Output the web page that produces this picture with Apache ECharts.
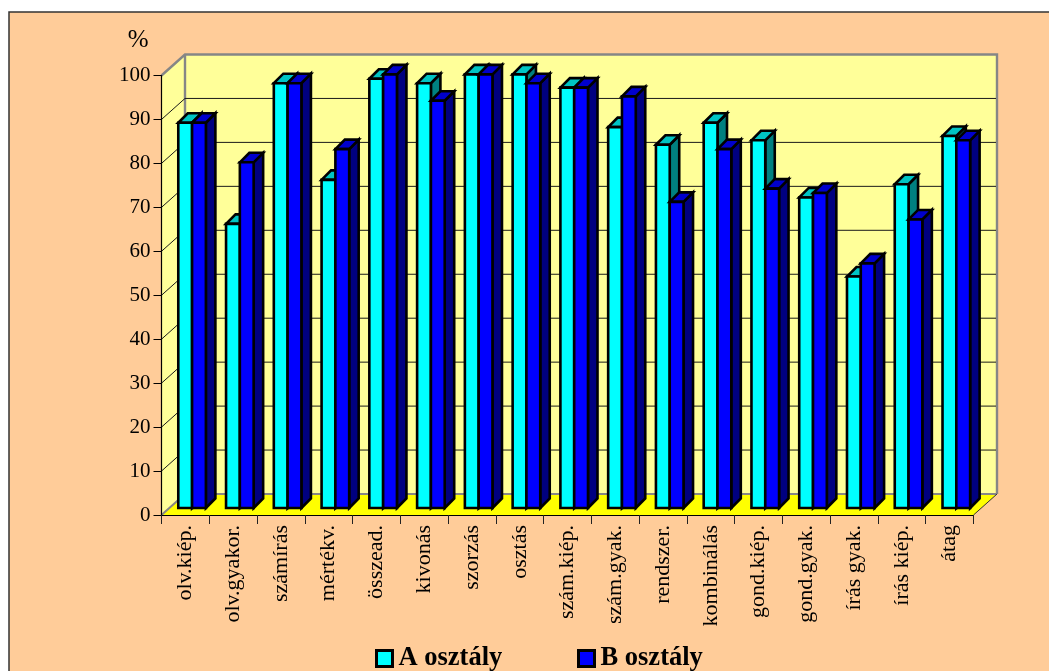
<!DOCTYPE html>
<html><head><meta charset="utf-8">
<style>html,body{margin:0;padding:0;background:#fff}#c{width:1049px;height:671px}</style>
<script src="https://cdn.jsdelivr.net/npm/echarts@6/dist/echarts.min.js"></script>
</head><body><div id="c"></div>
<script>
const categories = ['olv.kiép.','olv.gyakor.','számírás','mértékv.','összead.','kivonás','szorzás','osztás','szám.kiép.','szám.gyak.','rendszer.','kombinálás','gond.kiép.','gond.gyak.','írás gyak.','írás kiép.','átag'];
const classA = [88,65,97,75,98,97,99,99,96,87,83,88,84,71,53,74,85];
const classB = [88,79,97,82,99,93,99,97,96,94,70,82,73,72,56,66,84];
const gridValues = [10,20,30,40,50,60,70,80,90];
const FONT = '"Liberation Serif","Times New Roman",serif';
const chart = echarts.init(document.getElementById('c'), null, {renderer:'canvas'});

const WALL_DX = 23.5, WALL_DY = -21;
const BAR_DX = 6.7, BASE_DY = -7, TOP_DY = -5.5, DEPTH_DX = 9.5, DEPTH_DY = -9.5;
const BAR_W = 13.8;

function poly(points, fill, stroke, lw){
  return {type:'polygon', shape:{points}, style:{fill, stroke:stroke||'#000', lineWidth:lw==null?2.6:lw, lineJoin:'miter'}};
}
function barRender(slot, front, top, side){
  return function(params, api){
    const c = api.coord([api.value(0), api.value(1)]);
    const base = api.coord([api.value(0), 0]);
    const x0 = c[0] + BAR_DX + (slot-1)*BAR_W, x1 = x0 + BAR_W;
    const yT = c[1] + TOP_DY, yB = base[1] + BASE_DY;
    return {type:'group', children:[
      poly([[x1,yT],[x1+DEPTH_DX,yT+DEPTH_DY],[x1+DEPTH_DX,yB+DEPTH_DY],[x1,yB]], side),
      poly([[x0,yT],[x0+DEPTH_DX,yT+DEPTH_DY],[x1+DEPTH_DX,yT+DEPTH_DY],[x1,yT]], top),
      poly([[x0,yT],[x1,yT],[x1,yB],[x0,yB]], front)
    ]};
  };
}
function plotBox(api){
  const band = api.size([1,0])[0];
  const a = api.coord([0,0]), b = api.coord([categories.length-1,100]);
  return {l:a[0]-band/2, r:b[0]+band/2, y0:a[1], y1:b[1]};
}
function wallRender(params, api){
  const p = plotBox(api);
  const G = '#868686';
  return {type:'group', children:[
    poly([[p.l,p.y0],[p.l+WALL_DX,p.y0+WALL_DY],[p.l+WALL_DX,p.y1+WALL_DY],[p.l,p.y1]], '#FFFF99', 'transparent', 0),
    poly([[p.l+WALL_DX,p.y0+WALL_DY],[p.r+WALL_DX,p.y0+WALL_DY],[p.r+WALL_DX,p.y1+WALL_DY],[p.l+WALL_DX,p.y1+WALL_DY]], '#FFFF99', 'transparent', 0),
    poly([[p.l,p.y0],[p.r,p.y0],[p.r+WALL_DX,p.y0+WALL_DY],[p.l+WALL_DX,p.y0+WALL_DY]], '#FFFF00', 'transparent', 0),
    {type:'polyline', shape:{points:[[p.l,p.y0],[p.l+WALL_DX,p.y0+WALL_DY],[p.r+WALL_DX,p.y0+WALL_DY]]}, style:{fill:'none', stroke:G, lineWidth:2}},
    {type:'polyline', shape:{points:[[p.l,p.y1],[p.l+WALL_DX,p.y1+WALL_DY],[p.r+WALL_DX,p.y1+WALL_DY],[p.r+WALL_DX,p.y0+WALL_DY]]}, style:{fill:'none', stroke:G, lineWidth:2.4}},
    {type:'line', shape:{x1:p.l+WALL_DX,y1:p.y1+WALL_DY,x2:p.l+WALL_DX,y2:p.y0+WALL_DY}, style:{stroke:G, lineWidth:2.4}},
    {type:'line', shape:{x1:p.r,y1:p.y0,x2:p.r+WALL_DX,y2:p.y0+WALL_DY}, style:{stroke:'#333', lineWidth:1}}
  ]};
}
function gridRender(params, api){
  const p = plotBox(api);
  const y = api.coord([0, api.value(0)])[1];
  return {type:'polyline', shape:{points:[[p.l,y],[p.l+WALL_DX,y+WALL_DY],[p.r+WALL_DX-1,y+WALL_DY]]}, style:{fill:'none', stroke:'#1a1a1a', lineWidth:1}};
}

function legend(name, left, top){
  return {show:true, data:[name], left, top, icon:'rect', itemWidth:16, itemHeight:16, itemGap:0,
    selectedMode:false, padding:0,
    itemStyle:{borderColor:'#000', borderWidth:3},
    textStyle:{fontFamily:FONT, fontWeight:'bold', fontSize:26.5, color:'#000', padding:[0,0,0,1]}};
}

chart.setOption({
  animation:false,
  backgroundColor:'#fff',
  graphic:[{type:'rect', z:-10, silent:true, shape:{x:9,y:12,width:1045,height:665},
    style:{fill:'#FFCC99', stroke:'#333', lineWidth:1.5}}],
  grid:{left:161.5, top:75.5, width:812, height:439.5, containLabel:false},
  legend:[legend('A osztály',375,645), legend('B osztály',577,645)],
  xAxis:{type:'category', data:categories, boundaryGap:true,
    axisLine:{show:true,onZero:false,lineStyle:{color:'#000',width:1.2}},
    axisTick:{show:true,length:9,alignWithLabel:false,lineStyle:{color:'#222',width:1}},
    axisLabel:{rotate:90,interval:0,margin:10,fontFamily:FONT,fontSize:22,color:'#000'},
    splitLine:{show:false},z:5},
  yAxis:{type:'value',min:0,max:100,interval:10,
    name:'%',nameLocation:'end',nameGap:23,nameTextStyle:{fontFamily:FONT,fontSize:25,color:'#000',align:'right',padding:[0,13,0,0]},
    axisLine:{show:true,lineStyle:{color:'#000',width:1.2}},
    axisTick:{show:true,length:8,lineStyle:{color:'#000',width:1}},
    axisLabel:{margin:11,fontFamily:FONT,fontSize:21,color:'#000',padding:[3,0,0,0]},
    splitLine:{show:false},z:5},
  series:[
    {type:'custom',name:'walls',silent:true,z:1,data:[[0,100]],renderItem:wallRender,clip:false,legendHoverLink:false},
    {type:'custom',name:'grid',silent:true,z:2,data:gridValues.map(v=>[v]),encode:{y:0},renderItem:gridRender,clip:false},
    {type:'custom',name:'A osztály',z:3,clip:false,itemStyle:{color:'#00FFFF'},
      data:classA.map((v,i)=>[i,v]),encode:{x:0,y:1},renderItem:barRender(0,'#00FFFF','#00C4C4','#008080')},
    {type:'custom',name:'B osztály',z:4,clip:false,itemStyle:{color:'#0000FF'},
      data:classB.map((v,i)=>[i,v]),encode:{x:0,y:1},renderItem:barRender(1,'#0000FF','#0000CC','#000080')}
  ]
});
</script></body></html>
